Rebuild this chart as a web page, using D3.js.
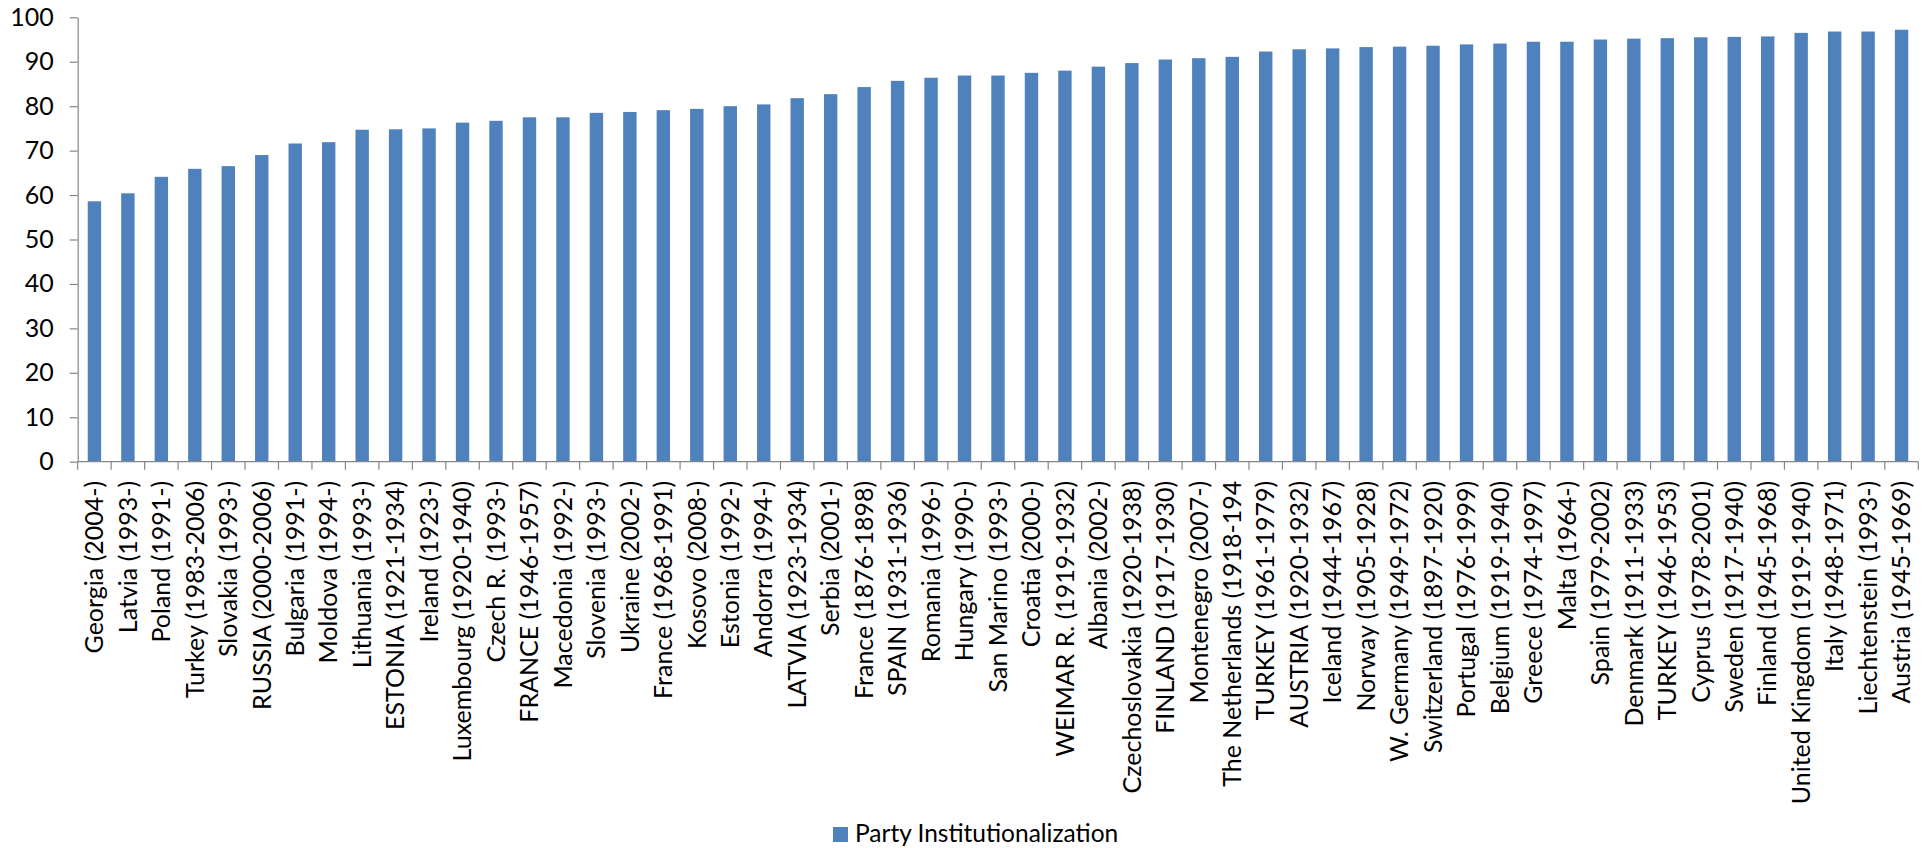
<!DOCTYPE html>
<html>
<head>
<meta charset="utf-8">
<script src="https://cdn.jsdelivr.net/npm/d3@7"></script>
<style>
  html, body { margin: 0; padding: 0; background: #ffffff; }
  svg { display: block; }
  text { font-family: Lato, "Open Sans", sans-serif; fill: #000; }
</style>
</head>
<body>
<svg id="chart" width="1928" height="848"></svg>
<script>
// Countries / regimes, ordered by institutionalization score
const categories = [
  "Georgia (2004-)", "Latvia (1993-)", "Poland (1991-)", "Turkey (1983-2006)",
  "Slovakia (1993-)", "RUSSIA (2000-2006)", "Bulgaria (1991-)", "Moldova (1994-)",
  "Lithuania (1993-)", "ESTONIA (1921-1934)", "Ireland (1923-)", "Luxembourg (1920-1940)",
  "Czech R. (1993-)", "FRANCE (1946-1957)", "Macedonia (1992-)", "Slovenia (1993-)",
  "Ukraine (2002-)", "France (1968-1991)", "Kosovo (2008-)", "Estonia (1992-)",
  "Andorra (1994-)", "LATVIA (1923-1934)", "Serbia (2001-)", "France (1876-1898)",
  "SPAIN (1931-1936)", "Romania (1996-)", "Hungary (1990-)", "San Marino (1993-)",
  "Croatia (2000-)", "WEIMAR R. (1919-1932)", "Albania (2002-)", "Czechoslovakia (1920-1938)",
  "FINLAND (1917-1930)", "Montenegro (2007-)", "The Netherlands (1918-194", "TURKEY (1961-1979)",
  "AUSTRIA (1920-1932)", "Iceland (1944-1967)", "Norway (1905-1928)", "W. Germany (1949-1972)",
  "Switzerland (1897-1920)", "Portugal (1976-1999)", "Belgium (1919-1940)", "Greece (1974-1997)",
  "Malta (1964-)", "Spain (1979-2002)", "Denmark (1911-1933)", "TURKEY (1946-1953)",
  "Cyprus (1978-2001)", "Sweden (1917-1940)", "Finland (1945-1968)", "United Kingdom (1919-1940)",
  "Italy (1948-1971)", "Liechtenstein (1993-)", "Austria (1945-1969)"
];

// Party Institutionalization score per regime
const institutionalization = [
  58.6, 60.4, 64.1, 65.9, 66.5, 69.0, 71.6, 71.9,
  74.7, 74.8, 75.0, 76.3, 76.7, 77.5, 77.5, 78.5,
  78.7, 79.1, 79.4, 80.0, 80.4, 81.8, 82.7, 84.3,
  85.7, 86.4, 86.9, 86.9, 87.5, 88.0, 88.9, 89.7,
  90.5, 90.8, 91.1, 92.3, 92.8, 93.0, 93.3, 93.4,
  93.6, 93.9, 94.1, 94.5, 94.5, 95.0, 95.2, 95.3,
  95.5, 95.6, 95.7, 96.5, 96.8, 96.8, 97.2
];

const yTicks = [0, 10, 20, 30, 40, 50, 60, 70, 80, 90, 100];
const seriesName = "Party Institutionalization";

const data = categories.map((c, i) => ({ name: c, value: institutionalization[i] }));

const svg = d3.select("#chart");
const plot = { left: 77.7, right: 1918.3, top: 17.3, bottom: 461.7 };
const axisColor = "#868686";
const barColor = "#4F81BD";
const fontSize = "25px";

const x = d3.scaleBand()
  .domain(categories)
  .range([plot.left, plot.right])
  .paddingInner(0.6)
  .paddingOuter(0.3);

const y = d3.scaleLinear()
  .domain([0, 100])
  .range([plot.bottom, plot.top]);

// Bars
svg.append("g")
  .selectAll("rect")
  .data(data)
  .join("rect")
  .attr("x", d => x(d.name))
  .attr("y", d => y(d.value))
  .attr("width", x.bandwidth())
  .attr("height", d => y(0) - y(d.value))
  .attr("fill", barColor);

// Y axis
const yAxis = svg.append("g")
  .attr("transform", `translate(${plot.left},0)`)
  .call(d3.axisLeft(y).tickValues(yTicks).tickSize(8).tickSizeOuter(0).tickPadding(16));
yAxis.select(".domain").attr("stroke", axisColor).attr("stroke-width", 1.2);
yAxis.selectAll(".tick line").attr("stroke", axisColor).attr("stroke-width", 1.2);
yAxis.selectAll(".tick text")
  .style("font-size", fontSize)
  .style("font-family", "Lato, sans-serif")
  .attr("fill", "#000");

// X axis: line, tick marks at band boundaries, rotated labels
const step = x.step();
const half = (step - x.bandwidth()) / 2;
const boundaries = categories.map(c => x(c) - half).concat([x(categories[categories.length - 1]) + x.bandwidth() + half]);

const xAxis = svg.append("g");
xAxis.append("line")
  .attr("x1", plot.left).attr("x2", plot.right)
  .attr("y1", y(0)).attr("y2", y(0))
  .attr("stroke", axisColor).attr("stroke-width", 1.2);
xAxis.selectAll("line.tick")
  .data(boundaries)
  .join("line")
  .attr("class", "tick")
  .attr("x1", d => d).attr("x2", d => d)
  .attr("y1", y(0)).attr("y2", y(0) + 8)
  .attr("stroke", axisColor).attr("stroke-width", 1.2);

xAxis.selectAll("text")
  .data(categories)
  .join("text")
  .attr("transform", d => `translate(${x(d) + x.bandwidth() / 2},${y(0) + 19}) rotate(-90)`)
  .attr("text-anchor", "end")
  .attr("dy", "0.35em")
  .style("font-size", fontSize)
  .text(d => d);

// Legend
const legend = svg.append("g").attr("transform", "translate(833,827)");
legend.append("rect")
  .attr("width", 15).attr("height", 15)
  .attr("fill", barColor);
legend.append("text")
  .attr("x", 22).attr("y", 15)
  .style("font-size", "24.5px")
  .text(seriesName);
</script>
</body>
</html>
